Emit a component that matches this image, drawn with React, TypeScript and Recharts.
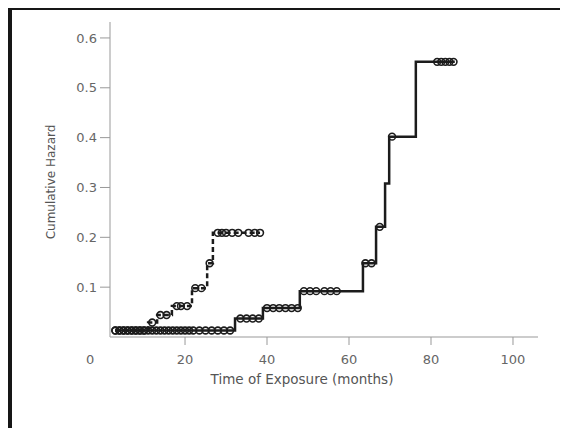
import { ComposedChart, Line, Scatter, XAxis, YAxis, Label } from "recharts";

// step curve of the dashed group: jump times (months) and cumulative hazard after each jump
const dashedTimes = [3, 11.0, 13.2, 16.8, 21.7, 25.4, 26.8, 38.3];
const dashedHazard = [0.013, 0.029, 0.044, 0.062, 0.098, 0.148, 0.209, 0.209];
// censoring marks of the dashed group
const dashedCensorTimes = [3, 4, 5, 6, 7, 8, 9, 10, 12, 14, 15.5, 18, 19, 20.5, 22.5, 24, 26, 28, 29, 30, 31.5, 33, 35.5, 37, 38.3];
const dashedCensorHazard = [0.013, 0.013, 0.013, 0.013, 0.013, 0.013, 0.013, 0.013, 0.029, 0.044, 0.044, 0.062, 0.062, 0.062, 0.098, 0.098, 0.148, 0.209, 0.209, 0.209, 0.209, 0.209, 0.209, 0.209, 0.209];

// step curve of the solid group
const solidTimes = [3, 32.2, 39.0, 48.0, 63.4, 66.6, 68.8, 69.8, 76.3, 85.8];
const solidHazard = [0.013, 0.037, 0.058, 0.092, 0.148, 0.221, 0.308, 0.402, 0.552, 0.552];
// censoring marks of the solid group
const solidCensorTimes = [
  3, 4, 5, 6, 7, 8, 9, 10, 11, 12, 13, 14, 15, 16, 17, 18, 19, 20, 21, 22, 23.5, 25, 26.5, 28, 29.5, 31,
  33.5, 35, 36.5, 38,
  40, 41.5, 43, 44.5, 46, 47.5,
  49, 50.5, 52, 54, 55.5, 57,
  64, 65.5,
  67.5,
  70.5,
  81.5, 82.5, 83.5, 84.5, 85.5,
];
const solidCensorHazard = [
  0.013, 0.013, 0.013, 0.013, 0.013, 0.013, 0.013, 0.013, 0.013, 0.013, 0.013, 0.013, 0.013,
  0.013, 0.013, 0.013, 0.013, 0.013, 0.013, 0.013, 0.013, 0.013, 0.013, 0.013, 0.013, 0.013,
  0.037, 0.037, 0.037, 0.037,
  0.058, 0.058, 0.058, 0.058, 0.058, 0.058,
  0.092, 0.092, 0.092, 0.092, 0.092, 0.092,
  0.148, 0.148,
  0.221,
  0.402,
  0.552, 0.552, 0.552, 0.552, 0.552,
];

const xTicks = [0, 20, 40, 60, 80, 100];
const yTicks = [0.1, 0.2, 0.3, 0.4, 0.5, 0.6];

const toPoints = (t: number[], h: number[]) => t.map((v, i) => ({ t: v, h: h[i] }));

const FONT = "DejaVu Sans";
const AXIS_Y = 337;

function CensorMark(props: any) {
  return <circle cx={props.cx} cy={props.cy} r={3.4} fill="none" stroke="#1c1c1c" strokeWidth={1.6} />;
}

function XTick(props: any) {
  const { x, payload } = props;
  if (payload.value === 0) {
    return (
      <text x={x - 13} y={364} textAnchor="middle" fontSize={13} fontFamily={FONT} fill="#666">
        0
      </text>
    );
  }
  return (
    <g>
      <line x1={x} y1={AXIS_Y} x2={x} y2={AXIS_Y + 8} stroke="#999" />
      <text x={x} y={364} textAnchor="middle" fontSize={13} fontFamily={FONT} fill="#666">
        {payload.value}
      </text>
    </g>
  );
}

export default function App() {
  const dashedSteps = toPoints(dashedTimes, dashedHazard);
  const dashedCensor = toPoints(dashedCensorTimes, dashedCensorHazard);
  const solidSteps = toPoints(solidTimes, solidHazard);
  const solidCensor = toPoints(solidCensorTimes, solidCensorHazard);

  return (
    <div style={{ position: "relative", width: 568, height: 436, margin: -8, background: "#fff" }}>
      <div
        style={{
          position: "absolute",
          left: 7,
          top: 5,
          width: 554,
          height: 426,
          boxSizing: "border-box",
          borderTop: "5px solid #161616",
          borderLeft: "5px solid #161616",
          borderRight: "1px solid #c8c8c8",
          borderBottom: "1px solid #d0d0d0",
        }}
      />
      <div style={{ position: "absolute", left: 0, top: 0 }}>
        <ComposedChart width={568} height={436} margin={{ top: 22, right: 30, bottom: 39, left: 0 }}>
          <XAxis
            dataKey="t"
            type="number"
            domain={[1.7, 106.1]}
            allowDataOverflow
            ticks={xTicks}
            interval={0}
            height={60}
            tickSize={0}
            tickMargin={0}
            tickLine={false}
            axisLine={{ stroke: "#999" }}
            tick={<XTick />}
          >
            <Label
              content={() => (
                <text x={302} y={384} textAnchor="middle" fontSize={13.5} fontFamily={FONT} fill="#555">
                  Time of Exposure (months)
                </text>
              )}
            />
          </XAxis>
          <YAxis
            type="number"
            domain={[0, 0.632]}
            allowDataOverflow
            ticks={yTicks}
            interval={0}
            width={110}
            tickSize={10}
            tickMargin={3}
            tickFormatter={(v: number) => v.toFixed(1)}
            tick={{ fontSize: 13, fontFamily: FONT, fill: "#666" }}
            tickLine={{ stroke: "#999" }}
            axisLine={{ stroke: "#999" }}
          >
            <Label
              content={() => (
                <text
                  x={51}
                  y={182}
                  transform="rotate(-90, 51, 182)"
                  textAnchor="middle"
                  dominantBaseline="central"
                  fontSize={12}
                  fontFamily={FONT}
                  fill="#555"
                >
                  Cumulative Hazard
                </text>
              )}
            />
          </YAxis>
          <Line
            data={dashedSteps}
            dataKey="h"
            type="stepAfter"
            stroke="#1c1c1c"
            strokeWidth={2.5}
            strokeDasharray="5 3"
            dot={false}
            isAnimationActive={false}
          />
          <Line
            data={solidSteps}
            dataKey="h"
            type="stepAfter"
            stroke="#1c1c1c"
            strokeWidth={2.5}
            dot={false}
            isAnimationActive={false}
          />
          <Scatter data={dashedCensor} dataKey="h" shape={<CensorMark />} isAnimationActive={false} />
          <Scatter data={solidCensor} dataKey="h" shape={<CensorMark />} isAnimationActive={false} />
        </ComposedChart>
      </div>
    </div>
  );
}
